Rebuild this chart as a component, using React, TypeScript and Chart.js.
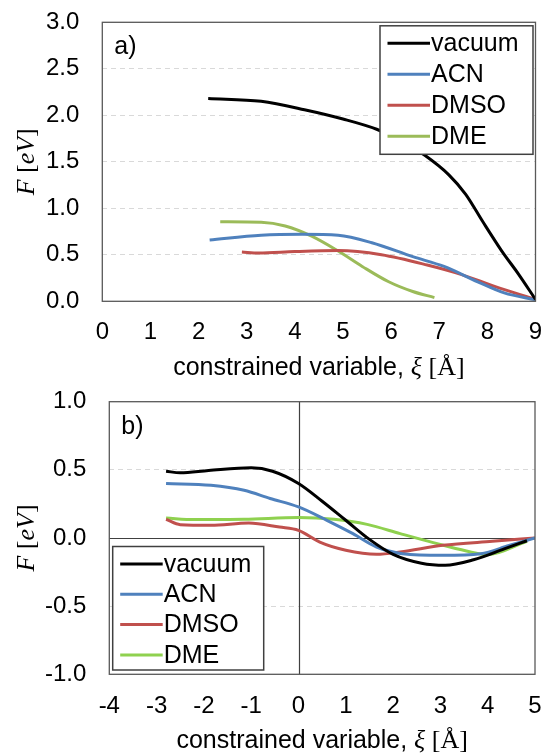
import React, { useEffect, useRef } from 'react';
import { Chart, registerables } from 'chart.js';

Chart.register(...registerables);

// ---------- data ----------
const SERIES_LABELS = ['vacuum', 'ACN', 'DMSO', 'DME'];
const COLORS_A = ['#000000', '#4F81BD', '#C0504D', '#9BBB59'];
const COLORS_B = ['#000000', '#4F81BD', '#C0504D', '#8FD14F'];

// panel a)
const A_X_RANGE = [0, 9];
const A_Y_RANGE = [0, 3];
const A_VACUUM_X = [2.2, 3.3, 4.2, 5.0, 5.7, 6.2, 6.7, 7.2, 7.55, 7.9, 8.3, 8.65, 9.0];
const A_VACUUM_Y = [2.18, 2.15, 2.06, 1.96, 1.85, 1.73, 1.57, 1.36, 1.15, 0.86, 0.54, 0.29, 0.02];
const A_ACN_X = [2.23, 3.3, 4.15, 4.9, 5.6, 6.45, 7.1, 7.8, 8.35, 9.0];
const A_ACN_Y = [0.66, 0.71, 0.72, 0.71, 0.63, 0.48, 0.375, 0.21, 0.09, 0.015];
const A_DMSO_X = [2.9, 3.25, 4.0, 4.9, 5.8, 6.75, 7.45, 8.15, 9.0];
const A_DMSO_Y = [0.53, 0.52, 0.535, 0.545, 0.5, 0.39, 0.29, 0.16, 0.02];
const A_DME_X = [2.45, 3.3, 3.8, 4.35, 4.9, 5.4, 5.95, 6.45, 6.9];
const A_DME_Y = [0.855, 0.85, 0.81, 0.7, 0.54, 0.375, 0.21, 0.105, 0.04];

// panel b)
const B_X_RANGE = [-4, 5];
const B_Y_RANGE = [-1, 1];
const B_VACUUM_X = [-2.8, -2.5, -1.9, -1.0, -0.55, 0, 0.5, 1.0, 1.5, 2.0, 2.6, 3.1, 3.7, 4.35, 4.83];
const B_VACUUM_Y = [0.49, 0.478, 0.495, 0.515, 0.49, 0.4, 0.27, 0.13, -0.01, -0.12, -0.185, -0.2, -0.16, -0.08, -0.02];
const B_ACN_X = [-2.8, -1.85, -1.15, -0.6, 0, 0.6, 1.15, 1.65, 2.2, 3.05, 3.85, 4.45, 5.0];
const B_ACN_Y = [0.4, 0.387, 0.35, 0.29, 0.228, 0.13, 0.032, -0.066, -0.115, -0.127, -0.115, -0.055, 0.0];
const B_DMSO_X = [-2.8, -2.5, -1.85, -1.05, -0.4, 0, 0.45, 1.0, 1.65, 2.15, 3.05, 4.1, 5.0];
const B_DMSO_Y = [0.137, 0.098, 0.093, 0.11, 0.08, 0.056, -0.03, -0.09, -0.12, -0.103, -0.054, -0.024, 0.0];
const B_DME_X = [-2.8, -2.2, -1.15, 0, 0.75, 1.45, 2.15, 2.85, 3.55, 4.0, 4.83];
const B_DME_Y = [0.147, 0.135, 0.137, 0.15, 0.137, 0.1, 0.032, -0.034, -0.095, -0.122, -0.024];

const A_SERIES = [
  [A_VACUUM_X, A_VACUUM_Y],
  [A_ACN_X, A_ACN_Y],
  [A_DMSO_X, A_DMSO_Y],
  [A_DME_X, A_DME_Y],
];
const B_SERIES = [
  [B_VACUUM_X, B_VACUUM_Y],
  [B_ACN_X, B_ACN_Y],
  [B_DMSO_X, B_DMSO_Y],
  [B_DME_X, B_DME_Y],
];

// ---------- styling ----------
const SANS = '"Liberation Sans", Arial, sans-serif';
const SERIF = '"Liberation Serif", "Times New Roman", serif';
const TICK_SIZE = 24;
const LEGEND_SIZE = 25;

type PanelCfg = {
  id: string;
  height: number;
  panelLabel: string;
  series: number[][][];
  colors: string[];
  xRange: number[];
  yRange: number[];
  yStep: number;
  left: number;
  top: number;
  right: number;
  xAxisHeight: number;
  xTickPad: number;
  xTitleY: number;
  zeroLines: boolean;
  legendPos: 'topright' | 'bottomleft';
};

function drawXTitle(ctx: CanvasRenderingContext2D, cx: number, cy: number) {
  const parts: [string, string][] = [
    ['constrained variable, ', `25px ${SANS}`],
    ['ξ', `italic 26px ${SERIF}`],
    [' [Å]', `26px ${SERIF}`],
  ];
  let total = 0;
  for (const [t, f] of parts) {
    ctx.font = f;
    total += ctx.measureText(t).width;
  }
  let x = cx - total / 2;
  ctx.textBaseline = 'middle';
  ctx.textAlign = 'left';
  ctx.fillStyle = '#000';
  for (const [t, f] of parts) {
    ctx.font = f;
    ctx.fillText(t, x, cy);
    x += ctx.measureText(t).width;
  }
}

function drawYTitle(ctx: CanvasRenderingContext2D, cx: number, cy: number) {
  const parts: [string, string][] = [
    ['F', `italic 26px ${SERIF}`],
    [' [', `26px ${SERIF}`],
    ['eV', `italic 26px ${SERIF}`],
    [']', `26px ${SERIF}`],
  ];
  ctx.save();
  ctx.translate(cx, cy);
  ctx.rotate(-Math.PI / 2);
  let total = 0;
  for (const [t, f] of parts) {
    ctx.font = f;
    total += ctx.measureText(t).width;
  }
  let x = -total / 2;
  ctx.textBaseline = 'middle';
  ctx.textAlign = 'left';
  ctx.fillStyle = '#000';
  for (const [t, f] of parts) {
    ctx.font = f;
    ctx.fillText(t, x, 0);
    x += ctx.measureText(t).width;
  }
  ctx.restore();
}

function makePlugin(cfg: PanelCfg) {
  return {
    id: 'decor_' + cfg.id,
    beforeDatasetsDraw(chart: any) {
      if (!cfg.zeroLines) return;
      const { ctx, chartArea } = chart;
      const xs = chart.scales.x;
      const ys = chart.scales.y;
      const x0 = Math.round(xs.getPixelForValue(0)) + 0.5;
      const y0 = Math.round(ys.getPixelForValue(0)) + 0.5;
      ctx.save();
      ctx.strokeStyle = '#404040';
      ctx.lineWidth = 1.2;
      ctx.beginPath();
      ctx.moveTo(x0, chartArea.top);
      ctx.lineTo(x0, chartArea.bottom);
      ctx.moveTo(chartArea.left, y0);
      ctx.lineTo(chartArea.right, y0);
      ctx.stroke();
      ctx.restore();
    },
    afterDatasetsDraw(chart: any) {
      const { ctx, chartArea } = chart;
      const { left, top, right, bottom } = chartArea;
      ctx.save();
      // legend
      const rowH = cfg.legendPos === 'topright' ? 31 : 30.3;
      const boxW = cfg.legendPos === 'topright' ? 153 : 151;
      const boxH = cfg.legendPos === 'topright' ? 128.5 : 123.5;
      let bx: number, by: number;
      if (cfg.legendPos === 'topright') {
        bx = right - 2.5 - boxW;
        by = top + 3.5;
      } else {
        bx = left + 3.4;
        by = bottom - 4.3 - boxH;
      }
      ctx.fillStyle = '#ffffff';
      ctx.fillRect(bx, by, boxW, boxH);
      ctx.strokeStyle = '#404040';
      ctx.lineWidth = 1.5;
      ctx.strokeRect(bx, by, boxW, boxH);
      const firstRow = by + 17.5;
      chart.data.datasets.forEach((ds: any, i: number) => {
        const y = firstRow + i * rowH;
        ctx.strokeStyle = ds.borderColor;
        ctx.lineWidth = 3;
        ctx.beginPath();
        ctx.moveTo(bx + 7.5, y);
        ctx.lineTo(bx + 50, y);
        ctx.stroke();
        ctx.fillStyle = '#000';
        ctx.font = `${LEGEND_SIZE}px ${SANS}`;
        ctx.textBaseline = 'middle';
        ctx.textAlign = 'left';
        ctx.fillText(ds.label, bx + 51, y + 1);
      });
      // plot border
      ctx.strokeStyle = '#595959';
      ctx.lineWidth = 1.3;
      ctx.strokeRect(left, top, right - left, bottom - top);
      // panel label
      ctx.fillStyle = '#000';
      ctx.font = `${LEGEND_SIZE}px ${SANS}`;
      ctx.textBaseline = 'middle';
      ctx.textAlign = 'left';
      ctx.fillText(cfg.panelLabel, left + 12, top + 25);
      ctx.restore();
    },
    afterDraw(chart: any) {
      const { ctx, chartArea } = chart;
      ctx.save();
      drawXTitle(ctx, (chartArea.left + chartArea.right) / 2, cfg.xTitleY);
      drawYTitle(ctx, 27, (chartArea.top + chartArea.bottom) / 2);
      ctx.restore();
    },
  };
}

function Panel({ cfg }: { cfg: PanelCfg }) {
  const ref = useRef<HTMLCanvasElement | null>(null);
  useEffect(() => {
    const canvas = ref.current;
    if (!canvas) return;
    const datasets = cfg.series.map((s, i) => ({
      label: SERIES_LABELS[i],
      data: s[0].map((x, j) => ({ x, y: s[1][j] })),
      borderColor: cfg.colors[i],
      backgroundColor: cfg.colors[i],
      borderWidth: 3,
      pointRadius: 0,
      fill: false,
      cubicInterpolationMode: 'monotone' as const,
      tension: 0.4,
    }));
    const chart = new Chart(canvas, {
      type: 'line',
      data: { datasets },
      options: {
        animation: false,
        responsive: false,
        maintainAspectRatio: false,
        layout: { padding: { left: 0, top: cfg.top, right: 544 - cfg.right, bottom: 0 } },
        plugins: { legend: { display: false }, tooltip: { enabled: false }, title: { display: false } },
        scales: {
          x: {
            type: 'linear',
            min: cfg.xRange[0],
            max: cfg.xRange[1],
            ticks: {
              stepSize: 1,
              color: '#000',
              font: { family: SANS, size: TICK_SIZE },
              padding: cfg.xTickPad,
              maxRotation: 0,
              autoSkip: false,
            },
            grid: { display: false, drawTicks: false },
            border: { display: false },
            afterFit: (s: any) => {
              s.height = cfg.xAxisHeight;
              s.paddingLeft = 0;
              s.paddingRight = 0;
            },
          },
          y: {
            type: 'linear',
            min: cfg.yRange[0],
            max: cfg.yRange[1],
            ticks: {
              stepSize: cfg.yStep,
              color: '#000',
              font: { family: SANS, size: TICK_SIZE },
              padding: 23,
              callback: (v: any) => Number(v).toFixed(1),
            },
            grid: { color: '#d9d9d9', lineWidth: 1, drawTicks: false },
            border: { display: false, dash: [5, 4] },
            afterFit: (s: any) => {
              s.width = cfg.left;
              s.paddingTop = 0;
              s.paddingBottom = 0;
            },
          },
        },
      },
      plugins: [makePlugin(cfg)],
    } as any);
    return () => chart.destroy();
  }, [cfg]);
  return (
    <canvas
      ref={ref}
      width={544}
      height={cfg.height}
      style={{ display: 'block', width: 544, height: cfg.height }}
    />
  );
}

const PANEL_A: PanelCfg = {
  id: 'a',
  height: 380,
  panelLabel: 'a)',
  series: A_SERIES,
  colors: COLORS_A,
  xRange: A_X_RANGE,
  yRange: A_Y_RANGE,
  yStep: 0.5,
  left: 102.3,
  top: 22.3,
  right: 535.5,
  xAxisHeight: 380 - 301.3,
  xTickPad: 17,
  xTitleY: 368,
  zeroLines: false,
  legendPos: 'topright',
};

const PANEL_B: PanelCfg = {
  id: 'b',
  height: 376,
  panelLabel: 'b)',
  series: B_SERIES,
  colors: COLORS_B,
  xRange: B_X_RANGE,
  yRange: B_Y_RANGE,
  yStep: 0.5,
  left: 109.3,
  top: 21.7,
  right: 535,
  xAxisHeight: 376 - 294.3,
  xTickPad: 18,
  xTitleY: 361,
  zeroLines: true,
  legendPos: 'bottomleft',
};

export default function App() {
  return (
    <div style={{ position: 'absolute', left: 0, top: 0, width: 544, height: 756, background: '#fff' }}>
      <Panel cfg={PANEL_A} />
      <Panel cfg={PANEL_B} />
    </div>
  );
}
